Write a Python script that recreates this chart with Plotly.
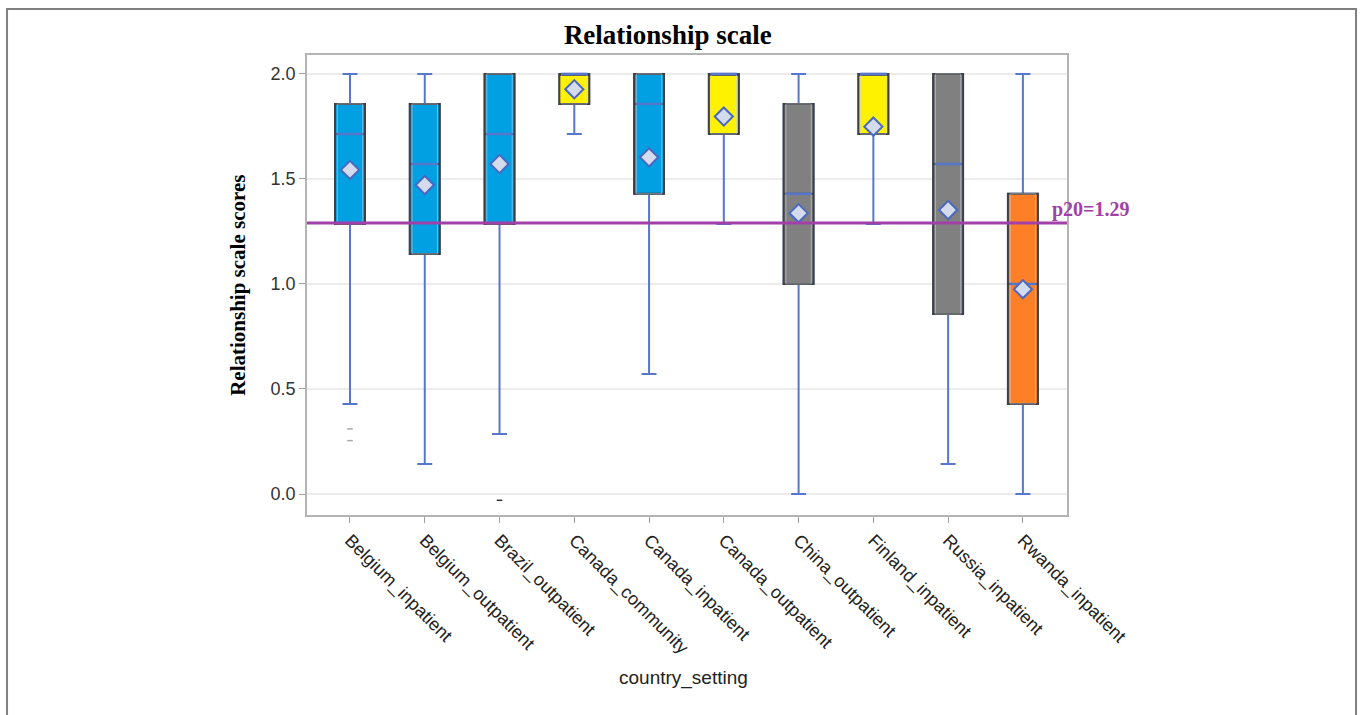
import plotly.graph_objects as go

# Summary statistics per country/setting (Relationship scale scores)
categories = ["Belgium_inpatient", "Belgium_outpatient", "Brazil_outpatient",
              "Canada_community", "Canada_inpatient", "Canada_outpatient",
              "China_outpatient", "Finland_inpatient", "Russia_inpatient",
              "Rwanda_inpatient"]
upper_whisker = [2.0, 2.0, 2.0, 2.0, 2.0, 2.0, 2.0, 2.0, 2.0, 2.0]
q3_values     = [1.857, 1.857, 2.0, 2.0, 2.0, 2.0, 1.857, 2.0, 2.0, 1.429]
median_values = [1.714, 1.571, 1.714, 2.0, 1.857, 2.0, 1.429, 2.0, 1.571, 1.0]
q1_values     = [1.286, 1.143, 1.286, 1.857, 1.429, 1.714, 1.0, 1.714, 0.857, 0.429]
lower_whisker = [0.429, 0.143, 0.286, 1.714, 0.571, 1.286, 0.0, 1.286, 0.143, 0.0]
mean_values   = [1.543, 1.471, 1.571, 1.927, 1.603, 1.797, 1.337, 1.749, 1.352, 0.975]

# Outlying observations
outlier_cats = ["Belgium_inpatient", "Belgium_inpatient", "Brazil_outpatient"]
outlier_vals = [0.31, 0.254, -0.03]
outlier_cols = ["#A8A8A8", "#A8A8A8", "#333333"]

# Box fill by group
group_fill = {"blue": "#00A0E2", "yellow": "#FFF200", "gray": "#808080", "orange": "#FF7F27"}
category_group = ["blue", "blue", "blue", "yellow", "blue", "yellow",
                  "gray", "yellow", "gray", "orange"]

p20_value = 1.29
y_ticks = [0.0, 0.5, 1.0, 1.5, 2.0]

WHISKER = "#5677CC"
OUTLINE = "#404040"
PURPLE = "#A040A8"

fig = go.Figure()

# Whiskers with caps
for i, cat in enumerate(categories):
    fig.add_trace(go.Box(
        x=[cat], q1=[q1_values[i]], median=[median_values[i]], q3=[q3_values[i]],
        lowerfence=[lower_whisker[i]], upperfence=[upper_whisker[i]],
        line=dict(color=WHISKER, width=2), fillcolor="rgba(0,0,0,0)",
        whiskerwidth=0.5, width=0.4, boxpoints=False, hoverinfo="skip",
        showlegend=False))

# Interquartile boxes
for i, cat in enumerate(categories):
    fig.add_trace(go.Box(
        x=[cat], q1=[q1_values[i]], median=[median_values[i]], q3=[q3_values[i]],
        lowerfence=[q1_values[i]], upperfence=[q3_values[i]],
        line=dict(color=OUTLINE, width=2),
        fillcolor=group_fill[category_group[i]],
        whiskerwidth=0, width=0.4, boxpoints=False, showlegend=False))

# Inner highlight line along each box
for i, cat in enumerate(categories):
    fig.add_trace(go.Box(
        x=[cat], q1=[q1_values[i]], median=[median_values[i]], q3=[q3_values[i]],
        lowerfence=[q1_values[i]], upperfence=[q3_values[i]],
        line=dict(color="rgba(200,215,240,0.55)", width=1),
        fillcolor="rgba(0,0,0,0)",
        whiskerwidth=0, width=0.34, boxpoints=False, hoverinfo="skip",
        showlegend=False))

# Median lines
fig.add_trace(go.Scatter(
    x=categories, y=median_values, mode="markers",
    marker=dict(symbol="line-ew", size=19, line=dict(color=WHISKER, width=2.5)),
    showlegend=False, hoverinfo="skip"))

# Means
fig.add_trace(go.Scatter(
    x=categories, y=mean_values, mode="markers",
    marker=dict(symbol="diamond", size=14, color="#D4DBEC",
                line=dict(color="#4A68C0", width=2)),
    showlegend=False))

# Outliers
fig.add_trace(go.Scatter(
    x=outlier_cats, y=outlier_vals, mode="markers",
    marker=dict(symbol="line-ew", size=4, line=dict(color=outlier_cols, width=1.5)),
    showlegend=False, hoverinfo="skip"))

# 20th percentile reference line
fig.add_shape(type="line", xref="paper", yref="y", x0=0, x1=1,
              y0=p20_value, y1=p20_value, line=dict(color=PURPLE, width=3))
fig.add_annotation(xref="paper", yref="y", x=0.977, y=p20_value, yshift=14,
                   text="p20=%.2f" % p20_value, showarrow=False, xanchor="left",
                   font=dict(family="Liberation Serif", size=20, color=PURPLE,
                             weight="bold"))

# Outer frame
fig.add_shape(type="rect", xref="paper", yref="paper",
              x0=-0.3947, x1=1.3803, y0=-0.46, y1=1.1,
              line=dict(color="#7F7F7F", width=2), layer="below")

# Axis titles
fig.add_annotation(xref="paper", yref="paper", x=-0.091, y=0.5,
                   xanchor="center", yanchor="middle",
                   text="Relationship scale scores", textangle=-90, showarrow=False,
                   font=dict(family="Liberation Serif", size=21, color="#000000",
                             weight="bold"))
fig.add_annotation(xref="paper", yref="paper", x=0.495, y=-0.354,
                   xanchor="center", yanchor="middle",
                   text="country_setting", showarrow=False,
                   font=dict(family="Liberation Sans", size=19, color="#222222"))

fig.update_layout(
    width=1360, height=715,
    margin=dict(l=307, r=293, t=55, b=200),
    paper_bgcolor="white", plot_bgcolor="white",
    boxmode="overlay",
    title=dict(text="Relationship scale", x=0.491, xanchor="center",
               y=1 - 35 / 715, yanchor="middle", yref="container",
               font=dict(family="Liberation Serif", size=27, color="#000000",
                         weight="bold")),
    xaxis=dict(type="category", categoryorder="array", categoryarray=categories,
               range=[-0.575, 9.59], tickangle=45,
               tickfont=dict(family="Liberation Sans", size=18, color="#222222"),
               ticks="outside", ticklen=6, tickcolor="#A0A0A0",
               showline=True, linecolor="#B4B4B4", linewidth=1.5, mirror=True,
               showgrid=False, zeroline=False),
    yaxis=dict(range=[-0.1, 2.09], tickvals=y_ticks, tickformat=".1f",
               tickfont=dict(family="Liberation Sans", size=18, color="#333333"),
               ticks="outside", ticklen=6, tickcolor="#A0A0A0",
               showline=True, linecolor="#B4B4B4", linewidth=1.5, mirror=True,
               showgrid=True, gridcolor="#ECECEC", gridwidth=1.5, zeroline=False),
)

fig.write_html("out.html")
